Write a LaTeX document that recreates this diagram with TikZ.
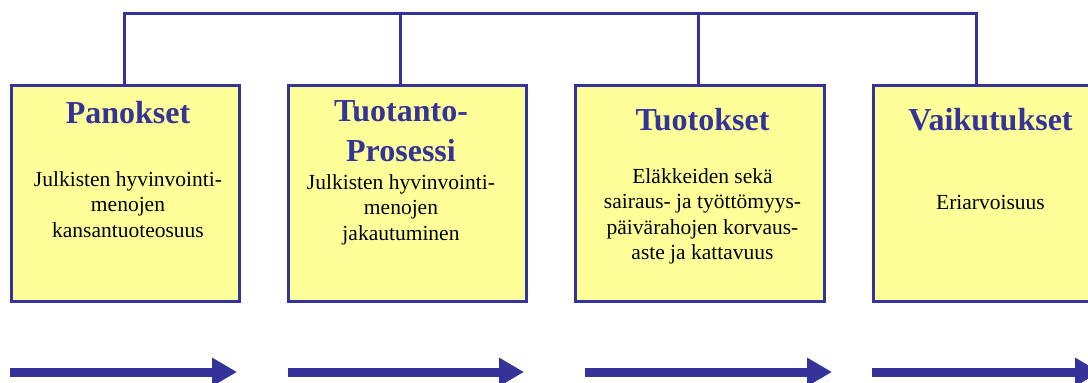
\documentclass[tikz,border=0pt]{standalone}
\usepackage{fontspec}
\setmainfont{Liberation Serif}
\usetikzlibrary{arrows.meta, positioning, calc}
\definecolor{stageblue}{HTML}{333399}
\definecolor{stagefill}{HTML}{FFFF99}

\begin{document}
\begin{tikzpicture}[x=1pt, y=-1pt, node distance=49pt,
    stagebox/.style={draw=stageblue, fill=stagefill, line width=3pt, minimum height=216pt, inner sep=0pt, outer sep=0pt, anchor=north west},
    title/.style={font=\bfseries\fontsize{32}{40}\selectfont, text=stageblue, align=center, anchor=north, inner sep=0pt},
    body/.style={font=\fontsize{21.5}{25.5}\selectfont, align=center, anchor=north, inner sep=0pt},
    link/.style={draw=stageblue, line width=3pt},
    flow/.style={stageblue, line width=9pt, -{Triangle[length=25pt, width=27pt]}}]

  \useasboundingbox (0,0) rectangle (1088,383);
  \clip (0,0) rectangle (1088,383);

  % the four stages
  \node[stagebox, minimum width=228pt] (panokset) at (11,85) {};
  \node[stagebox, minimum width=238pt, right=of panokset] (prosessi) {};
  \node[stagebox, minimum width=249pt, right=of prosessi] (tuotokset) {};
  \node[stagebox, minimum width=235pt, right=of tuotokset] (vaikutukset) {};

  \node[title] (t1) at ($(panokset.north)+(3,16)$) {Panokset};
  \node[title] (t2) at ($(prosessi.north)+(-6,15)$) {Tuotanto-\\Prosessi};
  \node[title] (t3) at ($(tuotokset.north)+(3,23)$) {Tuotokset};
  \node[title] (t4) at ($(vaikutukset.north)+(0,23)$) {Vaikutukset};

  \node[body] (b1) at ($(panokset.north)+(3,86)$) {Julkisten hyvinvointi-\\menojen\\kansantuoteosuus};
  \node[body] (b2) at ($(prosessi.north)+(-6,89)$) {Julkisten hyvinvointi-\\menojen\\jakautuminen};
  \node[body] (b3) at ($(tuotokset.north)+(3,83)$) {Eläkkeiden sekä\\sairaus- ja työttömyys-\\päivärahojen korvaus-\\aste ja kattavuus};
  \node[body] (b4) at ($(vaikutukset.north)+(0,110)$) {Eriarvoisuus};

  % connectors to the common line
  \coordinate (bus) at (0,13);
  \coordinate (c1) at ([xshift=-1pt]panokset.north);
  \coordinate (c2) at ([xshift=-7pt]prosessi.north);
  \coordinate (c3) at ([xshift=-1.5pt]tuotokset.north);
  \coordinate (c4) at ([xshift=-14.5pt]vaikutukset.north);
  \draw[link] (c1) |- (c4 |- bus) -- (c4);
  \draw[link] (c2) -- (c2 |- bus);
  \draw[link] (c3) -- (c3 |- bus);

  % arrows below
  \foreach \a/\b in {10/237, 288/524, 585/832, 872/1100}
    \draw[flow] (\a,372) -- (\b,372);
\end{tikzpicture}
\end{document}
